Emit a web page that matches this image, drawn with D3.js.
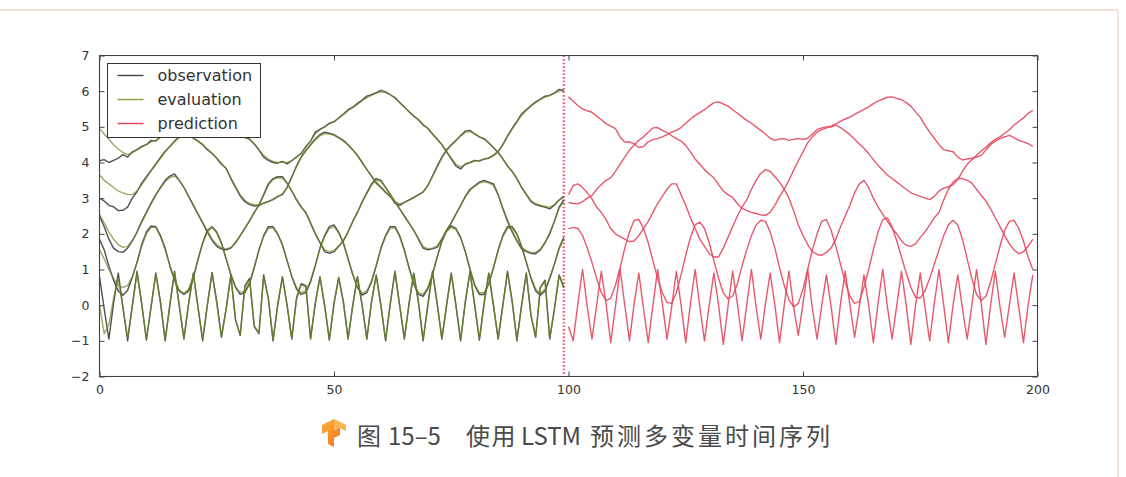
<!DOCTYPE html>
<html>
<head>
<meta charset="utf-8">
<script src="https://cdn.jsdelivr.net/npm/d3@7"></script>
<style>
  body { margin: 0; background: #fff; }
  svg { display: block; font-family: "DejaVu Sans", sans-serif; }
</style>
</head>
<body>
<svg id="chart" width="1126" height="477"></svg>
<script>
const obsS5 = [4.05,4.08,4.0,4.06,4.12,4.22,4.15,4.3,4.36,4.45, 4.5,4.62,4.6,4.72,4.8,4.9,5.0,5.1,5.2,5.25,
  5.3,5.32,5.3,5.25,5.2,5.1,5.0,4.95,4.88,4.8, 4.75,4.7,4.66,4.52,4.35,4.15,4.06,4.0,3.98,4.03,
  3.96,4.05,4.16,4.25,4.45,4.6,4.85,4.93,5.0,5.1, 5.14,5.25,5.36,5.48,5.55,5.66,5.75,5.86,5.9,5.96,
  6.02,5.98,5.9,5.82,5.68,5.56,5.42,5.3,5.2,5.05, 4.96,4.8,4.66,4.5,4.3,4.1,3.9,3.82,3.96,4.0,
  4.06,4.04,4.1,4.12,4.2,4.3,4.5,4.75,4.96,5.15, 5.36,5.48,5.6,5.7,5.78,5.86,5.88,5.95,6.05,6.02];
const obsS4 = [3.0,2.92,2.8,2.76,2.65,2.66,2.75,3.0,3.18,3.42, 3.6,3.78,3.96,4.14,4.32,4.45,4.6,4.72,4.8,4.78,
  4.68,4.6,4.5,4.36,4.25,4.12,3.95,3.84,3.55,3.3, 3.06,2.9,2.82,2.78,2.8,2.86,2.9,2.96,3.05,3.1,
  3.3,3.6,3.9,4.16,4.34,4.5,4.66,4.78,4.85,4.82, 4.78,4.7,4.62,4.5,4.36,4.2,4.0,3.8,3.62,3.42,
  3.3,3.16,3.05,2.86,2.8,2.88,2.95,3.02,3.1,3.17, 3.35,3.62,3.9,4.15,4.36,4.5,4.62,4.76,4.88,4.9,
  4.8,4.72,4.67,4.55,4.42,4.28,4.1,3.9,3.75,3.55, 3.3,3.1,2.9,2.82,2.78,2.75,2.7,2.8,2.95,3.05];
const obsS3 = [2.5,2.2,1.85,1.6,1.5,1.48,1.6,1.8,2.05,2.35, 2.6,2.86,3.1,3.3,3.5,3.62,3.68,3.5,3.3,3.05,
  2.8,2.55,2.3,2.05,1.82,1.65,1.57,1.55,1.6,1.75, 1.95,2.15,2.36,2.6,2.8,3.1,3.4,3.55,3.6,3.6,
  3.42,3.2,2.95,2.75,2.6,2.3,2.0,1.75,1.5,1.45, 1.5,1.65,1.8,2.05,2.35,2.6,2.9,3.15,3.4,3.55,
  3.5,3.3,3.1,2.9,2.7,2.5,2.3,2.1,1.85,1.6, 1.55,1.58,1.62,1.85,2.1,2.3,2.55,2.8,3.05,3.25,
  3.35,3.45,3.5,3.45,3.4,3.1,2.7,2.35,2.05,1.8, 1.58,1.5,1.45,1.44,1.55,1.75,2.0,2.35,2.75,2.95];
const obsM = [1.85,1.55,1.1,0.7,0.4,0.28,0.42,0.78,1.2,1.7, 2.05,2.22,2.2,1.95,1.6,1.1,0.7,0.4,0.3,0.4,
  0.75,1.28,1.75,2.1,2.2,2.05,1.75,1.3,0.85,0.5, 0.3,0.35,0.6,1.05,1.55,1.95,2.2,2.2,2.0,1.7,
  1.25,0.8,0.45,0.3,0.35,0.65,1.1,1.6,1.95,2.2, 2.25,2.05,1.75,1.3,0.85,0.5,0.28,0.35,0.65,1.1,
  1.6,1.95,2.2,2.2,1.95,1.55,1.05,0.6,0.3,0.25, 0.45,0.85,1.35,1.8,2.1,2.22,2.15,1.9,1.5,1.0,
  0.55,0.3,0.3,0.6,1.05,1.55,1.95,2.2,2.2,2.0, 1.65,1.2,0.75,0.4,0.28,0.4,0.75,1.15,1.6,1.9];
const obsF = [0.8,-0.1,-0.95,0.05,0.9,-0.05,-1.0,0.0,0.95,0.05, -0.98,-0.05,0.9,0.1,-1.0,0.0,0.95,0.0,-0.95,0.05,
  0.9,-0.05,-1.0,0.0,0.92,0.1,-0.9,-0.1,0.85,-0.4, -0.85,0.55,0.75,-0.6,-0.8,0.85,0.2,-1.0,0.0,0.8,
  0.0,-0.95,0.2,0.6,0.55,-0.95,0.05,0.8,0.0,-0.98, 0.05,0.78,0.1,-0.95,0.0,0.8,0.0,-0.95,0.1,0.85,
  0.0,-1.0,0.05,0.95,0.0,-0.95,0.05,0.9,0.1,-1.0, 0.0,0.95,0.05,-0.95,0.0,0.9,0.0,-1.0,0.1,0.95,
  0.0,-0.98,0.05,0.9,0.0,-0.95,0.0,0.95,0.1,-1.0, 0.0,0.9,-0.3,-0.9,0.5,0.7,-0.95,-0.1,0.85,0.5];

const evalS5 = [4.95,4.8,4.65,4.5,4.38,4.28,4.22,4.28,4.35,4.43, 4.5,4.58,4.62,4.7,4.78,4.88,4.98,5.08,5.17,5.23,
  5.28,5.3,5.28,5.24,5.18,5.1,5.02,4.95,4.88,4.82, 4.76,4.71,4.64,4.52,4.36,4.2,4.09,4.03,4.0,4.01,
  4.0,4.05,4.14,4.26,4.43,4.6,4.8,4.92,5.0,5.08, 5.15,5.24,5.34,5.45,5.54,5.63,5.73,5.82,5.88,5.94,
  5.98,5.96,5.9,5.8,5.68,5.55,5.43,5.31,5.2,5.07, 4.95,4.8,4.65,4.5,4.32,4.13,3.95,3.88,3.94,4.0,
  4.04,4.06,4.09,4.13,4.2,4.32,4.5,4.72,4.94,5.13, 5.32,5.46,5.58,5.68,5.76,5.83,5.88,5.94,6.0,6.0];
const evalS4 = [3.65,3.5,3.4,3.3,3.2,3.15,3.1,3.1,3.2,3.38, 3.57,3.76,3.94,4.12,4.3,4.44,4.58,4.7,4.77,4.76,
  4.69,4.6,4.5,4.38,4.26,4.12,3.98,3.82,3.58,3.33, 3.1,2.94,2.85,2.81,2.82,2.86,2.91,2.97,3.04,3.12,
  3.3,3.58,3.88,4.13,4.32,4.48,4.63,4.75,4.81,4.8, 4.76,4.69,4.6,4.49,4.35,4.19,4.0,3.81,3.62,3.45,
  3.32,3.18,3.06,2.9,2.84,2.88,2.94,3.01,3.09,3.18, 3.36,3.6,3.87,4.12,4.33,4.48,4.61,4.74,4.85,4.87,
  4.8,4.72,4.65,4.55,4.42,4.27,4.1,3.91,3.74,3.54, 3.31,3.12,2.93,2.85,2.8,2.77,2.74,2.82,2.95,3.03];
const evalS3 = [2.55,2.3,2.05,1.85,1.7,1.62,1.65,1.82,2.05,2.32, 2.58,2.84,3.08,3.28,3.46,3.58,3.62,3.5,3.3,3.06,
  2.82,2.57,2.32,2.08,1.86,1.7,1.61,1.58,1.62,1.76, 1.95,2.16,2.38,2.6,2.82,3.08,3.36,3.52,3.57,3.56,
  3.42,3.2,2.97,2.76,2.58,2.3,2.02,1.77,1.55,1.5, 1.53,1.66,1.82,2.06,2.34,2.6,2.88,3.13,3.36,3.5,
  3.47,3.3,3.1,2.9,2.7,2.5,2.3,2.1,1.87,1.64, 1.58,1.6,1.66,1.86,2.1,2.32,2.56,2.8,3.03,3.22,
  3.33,3.42,3.46,3.43,3.36,3.1,2.73,2.38,2.08,1.83, 1.62,1.53,1.48,1.48,1.57,1.77,2.02,2.35,2.72,2.92];
const evalM = [1.55,1.3,1.0,0.75,0.55,0.5,0.55,0.8,1.2,1.65, 2.0,2.18,2.18,1.92,1.55,1.12,0.72,0.42,0.33,0.45,
  0.8,1.28,1.72,2.05,2.18,2.02,1.72,1.3,0.88,0.52, 0.35,0.4,0.65,1.08,1.55,1.92,2.15,2.17,1.98,1.68,
  1.25,0.82,0.5,0.35,0.4,0.7,1.12,1.58,1.92,2.15, 2.2,2.02,1.72,1.3,0.88,0.52,0.33,0.4,0.68,1.12,
  1.58,1.92,2.16,2.17,1.92,1.52,1.05,0.62,0.35,0.3, 0.5,0.88,1.35,1.78,2.06,2.18,2.12,1.88,1.5,1.02,
  0.58,0.35,0.35,0.62,1.05,1.52,1.92,2.15,2.16,1.98, 1.65,1.22,0.78,0.45,0.33,0.45,0.78,1.15,1.58,1.86];
const evalF = [0.0,-0.8,-0.55,0.2,0.75,-0.1,-0.9,-0.05,0.9,0.0, -0.95,-0.05,0.88,0.05,-0.97,0.02,0.92,-0.02,-0.93,0.03,
  0.88,-0.08,-0.97,0.02,0.9,0.05,-0.88,-0.12,0.82,-0.42, -0.83,0.5,0.72,-0.58,-0.78,0.8,0.18,-0.97,0.02,0.78,
  -0.02,-0.93,0.15,0.58,0.5,-0.92,0.02,0.78,-0.02,-0.95, 0.03,0.76,0.08,-0.93,-0.02,0.78,-0.02,-0.93,0.08,0.82,
  -0.02,-0.97,0.03,0.92,-0.02,-0.93,0.03,0.88,0.08,-0.97, -0.02,0.92,0.03,-0.93,-0.02,0.88,-0.02,-0.97,0.08,0.92,
  -0.02,-0.95,0.03,0.88,-0.02,-0.93,-0.02,0.92,0.08,-0.97, -0.02,0.88,-0.28,-0.88,0.48,0.68,-0.92,-0.12,0.82,0.48];

const predS5 = [5.84,5.72,5.6,5.5,5.45,5.41,5.3,5.2,5.09,5.02, 4.95,4.72,4.57,4.58,4.52,4.42,4.45,4.58,4.64,4.67,
  4.72,4.78,4.85,4.9,4.98,5.1,5.22,5.32,5.4,5.48, 5.58,5.68,5.7,5.64,5.58,5.48,5.38,5.28,5.18,5.1,
  5.0,4.9,4.8,4.68,4.62,4.66,4.67,4.62,4.65,4.67, 4.65,4.68,4.8,4.92,4.97,5.0,5.02,5.08,5.15,5.22,
  5.27,5.35,5.42,5.49,5.56,5.65,5.72,5.78,5.83,5.84, 5.8,5.76,5.68,5.58,5.42,5.27,5.05,4.85,4.68,4.5,
  4.36,4.33,4.3,4.15,4.07,4.1,4.12,4.15,4.2,4.35, 4.5,4.6,4.67,4.72,4.76,4.7,4.62,4.58,4.53,4.45];
const predS4 = [2.88,2.85,2.84,2.9,3.0,3.07,3.25,3.38,3.5,3.57, 3.75,3.95,4.15,4.35,4.5,4.62,4.72,4.85,4.97,4.98,
  4.9,4.84,4.75,4.67,4.6,4.48,4.3,4.1,3.95,3.8, 3.68,3.57,3.38,3.2,3.1,3.02,2.85,2.72,2.65,2.6,
  2.57,2.53,2.52,2.6,2.8,3.05,3.25,3.5,3.78,4.05, 4.3,4.55,4.72,4.85,4.92,4.97,5.0,5.05,4.98,4.88,
  4.78,4.65,4.52,4.4,4.25,4.08,3.92,3.78,3.65,3.55, 3.45,3.35,3.25,3.15,3.1,3.05,3.0,2.96,3.05,3.2,
  3.28,3.32,3.38,3.52,3.75,3.95,4.08,4.2,4.32,4.43, 4.55,4.65,4.72,4.82,4.92,5.05,5.15,5.25,5.38,5.46];
const predS3 = [3.1,3.35,3.4,3.3,3.15,2.98,2.75,2.6,2.4,2.15, 2.0,1.92,1.85,1.78,1.8,1.95,2.15,2.35,2.6,2.85,
  3.05,3.25,3.4,3.4,3.1,2.8,2.45,2.15,1.85,1.65, 1.45,1.35,1.35,1.6,1.9,2.2,2.5,2.75,2.95,3.25,
  3.5,3.7,3.8,3.75,3.6,3.45,3.25,3.0,2.65,2.25, 1.95,1.7,1.5,1.42,1.4,1.48,1.6,1.85,2.2,2.5,
  2.8,3.15,3.4,3.5,3.3,3.0,2.75,2.55,2.35,2.15, 2.0,1.8,1.68,1.65,1.72,1.9,2.05,2.25,2.45,2.6,
  2.95,3.25,3.45,3.55,3.55,3.5,3.42,3.25,3.08,2.92, 2.7,2.45,2.2,1.95,1.72,1.55,1.44,1.5,1.65,1.85];
const predM = [2.14,2.18,2.15,1.95,1.6,1.2,0.75,0.35,0.13,0.2, 0.55,1.05,1.6,2.05,2.38,2.4,2.15,1.75,1.25,0.75,
  0.35,0.08,0.05,0.35,0.85,1.4,1.9,2.25,2.33,2.15, 1.75,1.25,0.75,0.35,0.18,0.25,0.6,1.1,1.55,1.95,
  2.25,2.38,2.35,2.05,1.6,1.05,0.55,0.15,-0.05,0.05, 0.45,1.0,1.55,2.0,2.35,2.4,2.1,1.65,1.15,0.65,
  0.25,0.05,0.1,0.5,1.0,1.55,2.05,2.4,2.45,2.2, 1.8,1.35,0.9,0.5,0.22,0.2,0.4,0.75,1.15,1.55,
  1.95,2.25,2.38,2.25,1.85,1.3,0.75,0.3,0.13,0.25, 0.65,1.15,1.65,2.1,2.35,2.38,2.15,1.8,1.35,1.0];
const predF = [-0.6,-1.0,0.05,1.0,-0.05,-0.95,0.0,0.95,0.05,-1.05, -0.05,1.0,0.0,-1.0,0.05,0.9,-0.1,-1.05,0.0,1.0,
  0.05,-0.95,-0.05,0.95,0.0,-1.05,0.05,1.0,-0.05,-1.0, 0.0,0.9,0.0,-1.1,-0.05,0.95,0.05,-1.0,0.0,1.0,
  -0.05,-0.95,0.05,0.9,0.0,-1.05,0.0,0.95,-0.05,-0.85, 0.05,1.0,-0.1,-0.95,0.0,0.85,-0.05,-1.1,0.05,0.95,
  0.0,-0.9,-0.05,0.85,0.0,-1.05,0.05,1.0,-0.05,-0.95, 0.0,0.95,0.0,-1.1,0.0,0.9,-0.05,-1.0,0.05,1.0,
  0.0,-1.05,0.0,0.85,-0.1,-0.95,0.0,1.0,0.05,-1.1, 0.0,0.95,-0.05,-0.9,0.0,0.9,-0.05,-1.05,0.0,0.85];

const xTicks = [0, 50, 100, 150, 200];
const yTicks = [-2, -1, 0, 1, 2, 3, 4, 5, 6, 7];
const legendLabels = ['observation', 'evaluation', 'prediction'];
const caption = '图 15–5 使用 LSTM 预测多变量时间序列';

// ---- layout ----
const W = 1126, H = 477;
const plot = {left: 99.5, right: 1037.5, top: 55.5, bottom: 376.5};
const colors = {obs: '#333333', evl: '#6a8a22', pred: '#e6465c'};

const svg = d3.select('#chart');

// faint page edges from the scanned book page
svg.append('line').attr('x1', 0).attr('x2', 1118).attr('y1', 10).attr('y2', 10)
  .attr('stroke', '#f5d6c2').attr('stroke-width', 1.5);
svg.append('line').attr('x1', 1118).attr('x2', 1118).attr('y1', 10).attr('y2', H)
  .attr('stroke', '#f2dccd').attr('stroke-width', 1.5);

const x = d3.scaleLinear().domain([0, 200]).range([plot.left, plot.right]);
const y = d3.scaleLinear().domain([-2, 7]).range([plot.bottom, plot.top]);

const lineAt = start => d3.line().x((d, i) => x(start + i)).y(d => y(d));

const mainG = svg.append('g');

// split marker at the last observation
mainG.append('line')
  .attr('x1', x(99)).attr('x2', x(99)).attr('y1', plot.top).attr('y2', plot.bottom)
  .attr('stroke', '#e8687a').attr('stroke-width', 2.5).attr('stroke-dasharray', '1.6,2');

const groups = [
  {series: [obsS5, obsS4, obsS3, obsM, obsF], start: 0, color: colors.obs, opacity: 0.85},
  {series: [evalS5, evalS4, evalS3, evalM, evalF], start: 0, color: colors.evl, opacity: 0.72},
  {series: [predS5, predS4, predS3, predM, predF], start: 100, color: colors.pred, opacity: 0.9}
];
groups.forEach(grp => {
  mainG.append('g').selectAll('path')
    .data(grp.series)
    .enter()
    .append('path')
    .attr('d', lineAt(grp.start))
    .attr('fill', 'none')
    .attr('stroke', grp.color)
    .attr('stroke-opacity', grp.opacity)
    .attr('stroke-width', 1.4)
    .attr('stroke-linejoin', 'round');
});

// axes (ticks point inward, classic matplotlib look)
const fmt = d => d < 0 ? '\u2212' + Math.abs(d) : String(d);
const styleAxis = sel => {
  sel.select('.domain').remove();
  sel.selectAll('.tick line').attr('stroke', '#444');
  sel.selectAll('.tick text').attr('fill', '#333').style('font-size', '12.5px')
    .style('font-family', '"DejaVu Sans", sans-serif');
};
svg.append('g').attr('transform', `translate(0,${plot.bottom})`)
  .call(d3.axisBottom(x).tickValues(xTicks).tickFormat(fmt).tickSizeInner(-5).tickSizeOuter(0).tickPadding(9))
  .call(styleAxis);
svg.append('g').attr('transform', `translate(0,${plot.top})`)
  .call(d3.axisTop(x).tickValues(xTicks).tickFormat('').tickSizeInner(-5).tickSizeOuter(0))
  .call(styleAxis);
svg.append('g').attr('transform', `translate(${plot.left},0)`)
  .call(d3.axisLeft(y).tickValues(yTicks).tickFormat(fmt).tickSizeInner(-5).tickSizeOuter(0).tickPadding(10))
  .call(styleAxis);
svg.append('g').attr('transform', `translate(${plot.right},0)`)
  .call(d3.axisRight(y).tickValues(yTicks).tickFormat('').tickSizeInner(-5).tickSizeOuter(0))
  .call(styleAxis);

svg.append('rect')
  .attr('x', plot.left).attr('y', plot.top)
  .attr('width', plot.right - plot.left).attr('height', plot.bottom - plot.top)
  .attr('fill', 'none').attr('stroke', '#444').attr('stroke-width', 1.1);

// legend
const legend = svg.append('g').attr('transform', 'translate(107.5,63.5)');
legend.append('rect').attr('width', 153).attr('height', 74)
  .attr('fill', '#fff').attr('stroke', '#333').attr('stroke-width', 1);
const legendColors = ['#444', '#8aa03a', '#e2405a'];
const item = legend.selectAll('g.item')
  .data(legendLabels)
  .enter()
  .append('g')
  .attr('class', 'item')
  .attr('transform', (d, k) => `translate(0,${12 + k * 24})`);
item.append('line').attr('x1', 10).attr('x2', 36).attr('y1', 0).attr('y2', 0)
  .attr('stroke', (d, k) => legendColors[k]).attr('stroke-width', 1.4);
item.append('text').attr('x', 50).attr('dy', '0.35em')
  .attr('fill', '#333').style('font-size', '16px')
  .text(d => d);

// caption with the orange logo
const logo = svg.append('g').attr('transform', 'translate(322,419)');
const grad = svg.append('defs').append('linearGradient').attr('id', 'tfGrad')
  .attr('x1', 0).attr('y1', 0).attr('x2', 1).attr('y2', 1);
grad.append('stop').attr('offset', '0%').attr('stop-color', '#fbb03b');
grad.append('stop').attr('offset', '100%').attr('stop-color', '#f26b1d');
logo.append('path')
  .attr('d', 'M0,6 L12,0 L24,6 L24,12 L18,9 L18,16 L12,19 L12,28 L6,25 L6,12 L0,15 Z')
  .attr('fill', 'url(#tfGrad)');
logo.append('path')
  .attr('d', 'M12,0 L24,6 L24,12 L18,9 L12,12 Z')
  .attr('fill', '#fcc15a').attr('opacity', 0.8);

const parts = caption.split(' ');
const partX = [357, 388, 466, 521, 590];
const capText = svg.append('text')
  .attr('y', 445)
  .attr('fill', '#4a4a4a')
  .style('font-family', '"Noto Sans CJK SC", "Noto Sans", sans-serif')
  .style('font-size', '24px');
capText.selectAll('tspan')
  .data(parts)
  .enter()
  .append('tspan')
  .attr('x', (d, k) => partX[k])
  .style('letter-spacing', (d, k) => k === 4 ? '3px' : (k === 2 ? '1.5px' : '0px'))
  .text(d => d);
</script>
</body>
</html>
